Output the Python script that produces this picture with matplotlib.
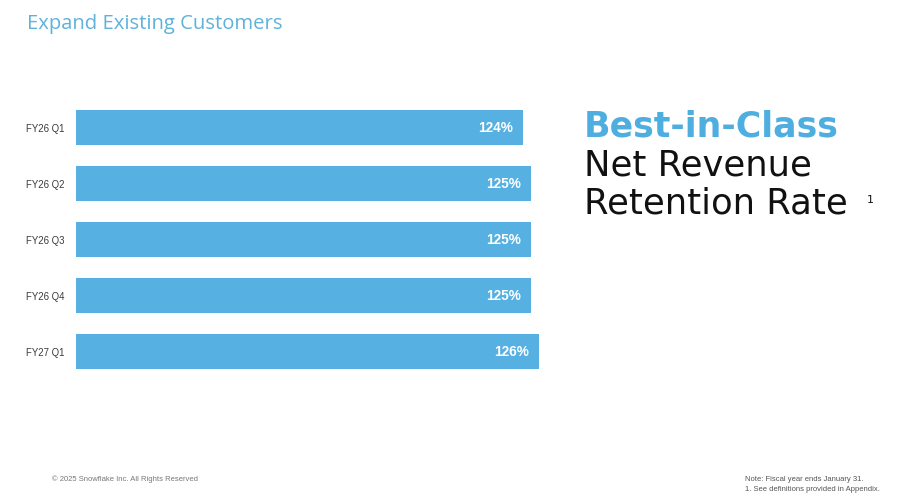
import matplotlib
matplotlib.use("Agg")
import matplotlib.pyplot as plt

categories = ["FY26 Q1", "FY26 Q2", "FY26 Q3", "FY26 Q4", "FY27 Q1"]
values = [124, 125, 125, 125, 126]
value_labels = ["124%", "125%", "125%", "125%", "126%"]

W, H = 900, 498
fig = plt.figure(figsize=(W / 100, H / 100), dpi=100)
fig.patch.set_facecolor("white")

def fx(px):
    return px / W

def fy(py):
    return 1 - py / H

# axes from x=76..560 px, y=99.5..379.5 px
ax = fig.add_axes([fx(76), fy(379.5), fx(560 - 76), (379.5 - 99.5) / H])
bar_color = "#56B1E2"
ypos = list(range(len(categories)))
ax.barh(ypos, values, height=0.625, color=bar_color, left=0)
ax.set_xlim(68.125, 128.625)
ax.set_ylim(4.5, -0.5)
for s in ax.spines.values():
    s.set_visible(False)
ax.set_xticks([])
ax.set_yticks(ypos)
ax.set_yticklabels(categories, fontsize=6.9, color="#3a3a3a", family="Liberation Sans")
ax.tick_params(axis="y", length=0, pad=8.5)

for y, v, lab in zip(ypos, values, value_labels):
    ax.annotate(lab, xy=(v, y), xytext=(-10, 0), textcoords="offset pixels",
                ha="right", va="center", color="white", fontsize=9.8,
                fontweight="bold", family="Liberation Sans")

# title
fig.text(fx(27), fy(24), "Expand Existing Customers", fontsize=14.6, color="#5FB2DA",
         family="Open Sans", va="center", ha="left")

# right-hand text
fig.text(fx(584), fy(126), "Best-in-Class", fontsize=25, color="#4FAEE0",
         fontweight="bold", family="DejaVu Sans", va="center", ha="left")
fig.text(fx(584), fy(165), "Net Revenue", fontsize=25.5, color="#111111",
         family="DejaVu Sans", va="center", ha="left")
fig.text(fx(584), fy(204), "Retention Rate", fontsize=25.5, color="#111111",
         family="DejaVu Sans", va="center", ha="left")
fig.text(fx(867), fy(200), "1", fontsize=8, color="#111111",
         family="DejaVu Sans", va="center", ha="left")

# footer
fig.text(fx(198), fy(479), "\u00a9 2025 Snowflake Inc. All Rights Reserved", fontsize=5.5,
         color="#777777", family="Liberation Sans", va="center", ha="right")
fig.text(fx(745), fy(479), "Note: Fiscal year ends January 31.", fontsize=5.5,
         color="#555555", family="Liberation Sans", va="center", ha="left")
fig.text(fx(745), fy(489), "1. See definitions provided in Appendix.", fontsize=5.5,
         color="#555555", family="Liberation Sans", va="center", ha="left")

fig.savefig("out.png", dpi=100, facecolor="white")
